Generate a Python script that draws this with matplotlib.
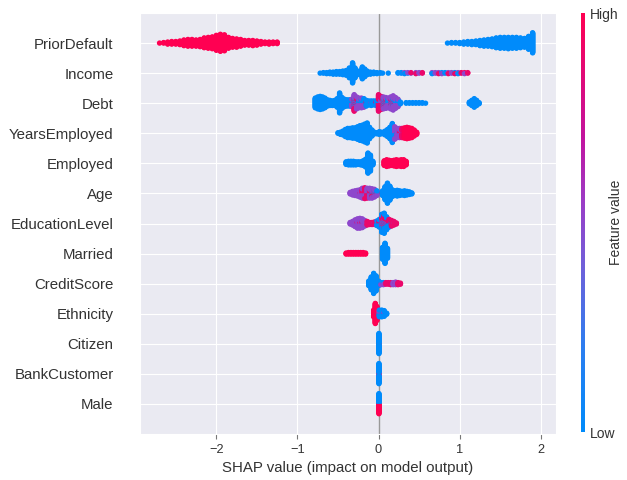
import numpy as np
import matplotlib
matplotlib.use("Agg")
import matplotlib.pyplot as plt
import seaborn as sns
from matplotlib.colors import LinearSegmentedColormap

sns.set_style("darkgrid")
plt.rcParams['font.family'] = ['Liberation Sans', 'DejaVu Sans']

# feature value levels used for colouring (0 = low, 1 = high)
LO, MID, PK, HI = 0.0, 0.5, 0.9, 1.0

feature_names = ["PriorDefault", "Income", "Debt", "YearsEmployed", "Employed", "Age",
                 "EducationLevel", "Married", "CreditScore", "Ethnicity", "Citizen",
                 "BankCustomer", "Male"]

# each entry: (SHAP value, number of samples, feature value)
prior_default = [
    (-2.70, 1, HI), (-2.65, 2, HI), (-2.60, 5, HI), (-2.55, 6, HI), (-2.50, 6, HI),
    (-2.45, 8, HI), (-2.40, 12, HI), (-2.35, 14, HI), (-2.30, 14, HI), (-2.25, 13, HI),
    (-2.20, 15, HI), (-2.15, 20, HI), (-2.10, 22, HI), (-2.05, 24, HI), (-2.00, 30, HI),
    (-1.95, 34, HI), (-1.90, 32, HI), (-1.85, 22, HI), (-1.80, 18, HI), (-1.75, 17, HI),
    (-1.70, 14, HI), (-1.65, 10, HI), (-1.60, 10, HI), (-1.55, 11, HI), (-1.50, 9, HI),
    (-1.45, 6, HI), (-1.40, 4, HI), (-1.35, 5, HI), (-1.30, 4, HI), (-1.25, 4, HI),
    (0.85, 1, LO), (0.90, 2, LO), (0.95, 2, LO), (1.00, 3, LO), (1.05, 5, LO),
    (1.10, 6, LO), (1.15, 7, LO), (1.20, 8, LO), (1.25, 11, LO), (1.30, 13, LO),
    (1.35, 14, LO), (1.40, 16, LO), (1.45, 20, LO), (1.50, 22, LO), (1.55, 22, LO),
    (1.60, 23, LO), (1.65, 22, LO), (1.70, 22, LO), (1.75, 20, LO), (1.80, 18, LO),
    (1.85, 26, LO), (1.90, 40, LO),
]
income = [
    (-0.72, 1, LO), (-0.68, 2, LO), (-0.64, 3, LO), (-0.60, 4, LO), (-0.56, 5, LO),
    (-0.52, 6, LO), (-0.48, 6, LO), (-0.44, 8, LO), (-0.40, 10, LO), (-0.36, 20, LO),
    (-0.32, 40, LO), (-0.29, 20, LO), (-0.26, 8, LO), (-0.23, 8, LO), (-0.20, 24, LO),
    (-0.17, 16, LO), (-0.14, 8, LO), (-0.10, 5, LO), (-0.06, 4, LO), (-0.02, 3, LO),
    (0.02, 2, LO), (0.05, 1, LO), (0.12, 1, LO),
    (0.24, 2, LO), (0.28, 2, LO), (0.32, 2, LO), (0.32, 1, MID), (0.36, 1, LO), (0.36, 1, MID),
    (0.40, 1, MID), (0.40, 1, PK), (0.46, 2, PK), (0.46, 1, MID), (0.50, 2, MID), (0.54, 2, PK),
    (0.66, 2, LO), (0.66, 1, MID), (0.70, 2, MID), (0.74, 2, PK), (0.74, 1, MID),
    (0.78, 2, MID), (0.78, 1, LO), (0.82, 2, LO), (0.86, 2, PK), (0.86, 1, MID),
    (0.90, 2, MID), (0.94, 2, PK), (0.94, 1, LO), (0.98, 2, LO), (0.98, 1, MID),
    (1.02, 2, PK), (1.06, 2, MID), (1.06, 1, PK), (1.10, 2, PK),
]
debt = [
    (-0.78, 18, LO), (-0.75, 22, LO), (-0.72, 24, LO), (-0.69, 22, LO), (-0.66, 18, LO),
    (-0.63, 12, LO), (-0.60, 10, LO), (-0.57, 9, LO), (-0.54, 10, LO), (-0.51, 16, LO),
    (-0.48, 36, LO), (-0.45, 20, LO), (-0.42, 14, LO), (-0.39, 12, LO), (-0.36, 12, LO),
    (-0.33, 8, MID), (-0.33, 6, LO), (-0.30, 12, PK), (-0.30, 12, MID), (-0.30, 6, LO),
    (-0.27, 10, MID), (-0.27, 8, PK), (-0.27, 4, LO), (-0.24, 12, MID), (-0.24, 6, LO),
    (-0.21, 10, MID), (-0.21, 8, LO), (-0.18, 8, MID), (-0.18, 8, LO), (-0.15, 8, LO),
    (-0.15, 3, PK), (-0.12, 8, LO), (-0.09, 7, LO), (-0.09, 2, MID), (-0.06, 8, LO),
    (-0.03, 6, LO), (-0.03, 3, PK), (0.00, 24, PK), (0.00, 6, LO), (0.03, 16, PK),
    (0.03, 8, MID), (0.06, 10, MID), (0.06, 6, PK), (0.06, 6, LO), (0.09, 10, MID),
    (0.09, 6, PK), (0.09, 4, LO), (0.12, 10, MID), (0.12, 8, LO), (0.15, 12, MID),
    (0.15, 6, PK), (0.15, 4, LO), (0.18, 16, MID), (0.18, 6, LO), (0.18, 4, PK),
    (0.21, 14, MID), (0.21, 6, LO), (0.24, 8, MID), (0.24, 6, LO), (0.27, 4, LO),
    (0.34, 2, LO), (0.38, 2, LO), (0.42, 2, LO), (0.46, 2, LO), (0.50, 2, LO),
    (0.54, 2, LO), (0.58, 1, LO),
    (1.12, 4, LO), (1.15, 10, LO), (1.18, 16, LO), (1.21, 10, LO), (1.24, 3, LO),
]
years_employed = [
    (-0.50, 2, LO), (-0.47, 5, LO), (-0.44, 8, LO), (-0.41, 14, LO), (-0.38, 18, LO),
    (-0.35, 18, LO), (-0.32, 20, LO), (-0.29, 20, LO), (-0.26, 24, LO), (-0.23, 28, LO),
    (-0.20, 30, LO), (-0.17, 34, LO), (-0.14, 38, LO), (-0.11, 22, LO), (-0.08, 12, LO),
    (-0.05, 4, LO), (-0.02, 3, LO), (0.01, 6, LO), (0.04, 4, LO), (0.08, 8, LO),
    (0.11, 14, LO), (0.14, 22, LO), (0.17, 36, LO), (0.20, 10, LO), (0.20, 14, MID),
    (0.23, 16, MID), (0.23, 2, LO), (0.26, 12, MID), (0.26, 6, PK), (0.29, 14, PK),
    (0.29, 4, MID), (0.32, 18, HI), (0.32, 2, PK), (0.35, 22, HI), (0.38, 20, HI),
    (0.41, 18, HI), (0.44, 12, HI), (0.47, 5, HI),
]
employed = [
    (-0.40, 6, LO), (-0.37, 8, LO), (-0.34, 8, LO), (-0.31, 8, LO), (-0.28, 7, LO),
    (-0.25, 6, LO), (-0.22, 7, LO), (-0.19, 10, LO), (-0.16, 16, LO), (-0.13, 40, LO),
    (-0.10, 32, LO), (-0.07, 8, LO),
    (0.07, 10, HI), (0.10, 14, HI), (0.13, 12, HI), (0.16, 10, HI), (0.19, 12, HI),
    (0.22, 14, HI), (0.25, 12, HI), (0.28, 14, HI), (0.31, 14, HI), (0.34, 8, HI),
]
age = [
    (-0.35, 4, MID), (-0.32, 8, MID), (-0.29, 10, MID), (-0.26, 12, MID),
    (-0.23, 12, MID), (-0.23, 3, PK), (-0.20, 12, MID), (-0.20, 8, PK),
    (-0.17, 10, MID), (-0.17, 12, PK), (-0.14, 10, PK), (-0.14, 10, MID),
    (-0.11, 12, MID), (-0.11, 6, PK), (-0.11, 2, LO), (-0.08, 10, MID), (-0.08, 6, PK),
    (-0.08, 3, LO), (-0.05, 8, MID), (-0.05, 4, PK), (-0.05, 4, LO), (-0.02, 4, MID),
    (-0.02, 4, LO), (-0.02, 2, PK),
    (0.05, 10, LO), (0.08, 26, LO), (0.11, 40, LO), (0.14, 28, LO), (0.17, 14, LO),
    (0.20, 10, LO), (0.23, 12, LO), (0.26, 10, LO), (0.29, 8, LO), (0.32, 10, LO),
    (0.35, 8, LO), (0.38, 6, LO), (0.41, 3, LO),
]
education_level = [
    (-0.35, 4, MID), (-0.32, 8, MID), (-0.29, 14, MID), (-0.26, 16, MID), (-0.26, 3, PK),
    (-0.23, 16, MID), (-0.23, 4, PK), (-0.20, 14, MID), (-0.20, 4, PK), (-0.17, 10, MID),
    (-0.17, 2, LO), (-0.14, 6, PK), (-0.14, 2, MID), (-0.11, 5, PK), (-0.08, 5, PK),
    (-0.05, 4, PK), (-0.05, 2, MID), (-0.02, 6, LO), (-0.02, 4, PK),
    (0.01, 10, LO), (0.01, 6, PK), (0.04, 18, LO), (0.04, 12, PK), (0.04, 6, MID),
    (0.07, 20, LO), (0.07, 14, PK), (0.07, 6, MID), (0.10, 14, LO), (0.10, 8, PK),
    (0.10, 4, MID), (0.13, 8, LO), (0.13, 8, PK), (0.16, 8, PK), (0.16, 4, LO),
    (0.19, 6, PK), (0.19, 2, MID), (0.22, 3, PK),
]
married = [
    (-0.40, 3, HI), (-0.37, 4, HI), (-0.34, 4, HI), (-0.31, 4, HI), (-0.28, 4, HI),
    (-0.25, 4, HI), (-0.22, 4, HI), (-0.19, 4, HI), (-0.16, 3, HI),
    (0.05, 24, LO), (0.08, 40, LO), (0.11, 20, LO),
]
credit_score = [
    (-0.12, 10, LO), (-0.09, 26, LO), (-0.06, 40, LO), (-0.03, 30, LO), (0.00, 10, LO),
    (0.03, 3, MID), (0.03, 2, LO), (0.06, 3, MID), (0.06, 2, LO), (0.09, 3, PK),
    (0.09, 1, MID), (0.12, 4, PK), (0.15, 4, PK), (0.15, 1, MID), (0.18, 4, MID),
    (0.18, 1, PK), (0.21, 4, MID), (0.21, 2, PK), (0.24, 5, PK), (0.27, 3, PK),
]
ethnicity = [
    (-0.06, 14, HI), (-0.04, 40, HI), (-0.02, 26, HI), (-0.02, 2, LO),
    (0.01, 8, LO), (0.01, 6, MID), (0.04, 10, LO), (0.04, 4, MID),
    (0.07, 8, LO), (0.07, 4, MID), (0.10, 3, LO),
]
citizen = [(0.005, 2, PK), (0.005, 38, LO)]
bank_customer = [(0.005, 3, MID), (0.005, 2, PK), (0.005, 35, LO)]
male = [(0.005, 20, HI), (0.005, 20, LO)]

rows = [prior_default, income, debt, years_employed, employed, age, education_level,
        married, credit_score, ethnicity, citizen, bank_customer, male]


def swarm(points, row_height=0.4):
    """Stack samples sharing a SHAP bin vertically, like shap's beeswarm."""
    groups = {}
    for x, n, f in points:
        groups.setdefault(x, []).append([f] * n)
    xs, ys, cs = [], [], []
    for x, lists in groups.items():
        order = []
        while any(lists):
            for l in lists:
                if l:
                    order.append(l.pop())
        for layer, f in enumerate(order):
            xs.append(x)
            ys.append(np.ceil(layer / 2) * ((layer % 2) * 2 - 1))
            cs.append(f)
    ys = np.array(ys, dtype=float)
    ys *= 0.9 * (row_height / (ys.max() + 1))
    return np.array(xs), ys, np.array(cs)


cmap = LinearSegmentedColormap.from_list(
    "shap_red_blue",
    [(0.0, "#008bfb"), (0.2, "#2c7ef0"), (0.4, "#715fd9"), (0.55, "#9b3cc6"),
     (0.7, "#c1149f"), (0.85, "#e00a78"), (1.0, "#ff0052")])

fig = plt.figure(figsize=(6.27, 4.8), dpi=100)
ax = fig.add_axes([140 / 627, 1 - 434 / 480, 416 / 627, 421 / 480])

n = len(feature_names)
ax.axvline(0, color="#999999", lw=1, zorder=1)
for i, pts in enumerate(rows):
    pos = n - 1 - i
    xs, ys, cs = swarm(pts)
    ax.scatter(xs, pos + ys, c=cs, cmap=cmap, vmin=0, vmax=1, s=15,
               linewidth=0, alpha=1, zorder=3)

ax.set_xlim(-2.941, 2.188)
ax.set_ylim(-1, n)
ax.set_yticks(range(n))
ax.set_yticklabels(feature_names[::-1], fontsize=10.8, color="#333333")
ax.set_xticks([-2, -1, 0, 1, 2])
ax.tick_params(axis="x", labelsize=9.2, labelcolor="#333333", bottom=True,
               length=3.5, width=0.8, color="#777777")
ax.tick_params(axis="y", length=0, pad=19)
ax.set_xlabel("SHAP value (impact on model output)", fontsize=10.8, color="#333333")

cax = fig.add_axes([581 / 627, 1 - 432 / 480, 4 / 627, 419 / 480])
sm = plt.cm.ScalarMappable(cmap=cmap, norm=plt.Normalize(0, 1))
cb = fig.colorbar(sm, cax=cax, ticks=[0, 1])
cb.set_ticklabels(["Low", "High"])
cb.set_label("Feature value", size=10, color="#333333")
cax.yaxis.set_label_coords(7.0, 0.5)
cb.ax.tick_params(labelsize=10, length=0, labelcolor="#333333")
cb.outline.set_visible(False)
cax.grid(False)

fig.savefig("out.png", dpi=100)
